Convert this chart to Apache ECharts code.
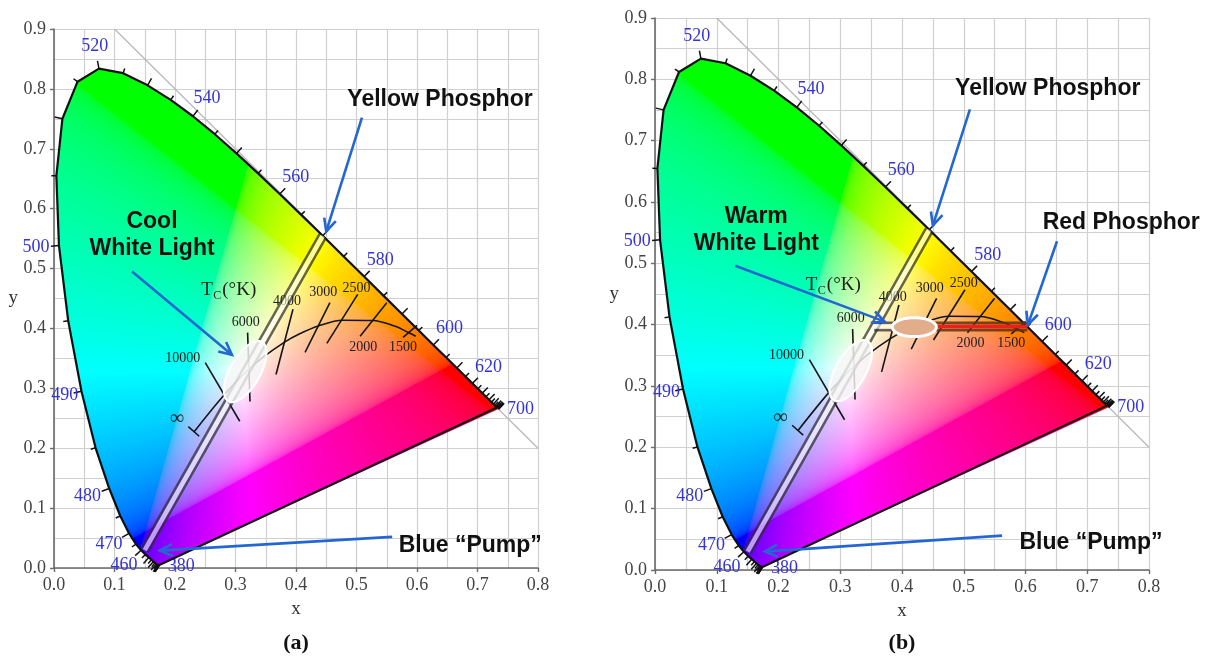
<!DOCTYPE html>
<html>
<head>
<meta charset="utf-8">
<title>CIE 1931 chromaticity – white LED</title>
<script src="https://cdn.jsdelivr.net/npm/echarts@6/dist/echarts.min.js"></script>
<style>
  html, body { margin: 0; padding: 0; background: #ffffff; }
  #chart { width: 1216px; height: 662px; }
</style>
</head>
<body>
<div id="chart"></div>
<script>
// ---- CIE 1931 2° spectral locus, 5 nm steps ----
const wavelengths = [380,385,390,395,400,405,410,415,420,425,430,435,440,445,450,455,460,465,470,475,
  480,485,490,495,500,505,510,515,520,525,530,535,540,545,550,555,560,565,570,575,580,585,590,595,
  600,605,610,615,620,625,630,635,640,645,650,655,660,665,670,675,680,685,690,695,700];
const locusX = [0.1741,0.1740,0.1738,0.1736,0.1733,0.1730,0.1726,0.1721,0.1714,0.1703,0.1689,0.1669,
  0.1644,0.1611,0.1566,0.1510,0.1440,0.1355,0.1241,0.1096,0.0913,0.0687,0.0454,0.0235,0.0082,0.0039,
  0.0139,0.0389,0.0743,0.1142,0.1547,0.1929,0.2296,0.2658,0.3016,0.3373,0.3731,0.4087,0.4441,0.4788,
  0.5125,0.5448,0.5752,0.6029,0.6270,0.6482,0.6658,0.6801,0.6915,0.7006,0.7079,0.7140,0.7190,0.7230,
  0.7260,0.7283,0.7300,0.7311,0.7320,0.7327,0.7334,0.7340,0.7344,0.7346,0.7347];
const locusY = [0.0050,0.0050,0.0049,0.0049,0.0048,0.0048,0.0048,0.0048,0.0051,0.0058,0.0069,0.0086,
  0.0109,0.0138,0.0177,0.0227,0.0297,0.0399,0.0578,0.0868,0.1327,0.2007,0.2950,0.4127,0.5384,0.6548,
  0.7502,0.8120,0.8338,0.8262,0.8059,0.7816,0.7543,0.7243,0.6923,0.6589,0.6245,0.5896,0.5547,0.5202,
  0.4866,0.4544,0.4242,0.3965,0.3725,0.3514,0.3340,0.3197,0.3083,0.2993,0.2920,0.2859,0.2809,0.2770,
  0.2740,0.2717,0.2700,0.2689,0.2680,0.2673,0.2666,0.2660,0.2656,0.2654,0.2653];
const labelledWavelengths = [380,460,470,480,490,500,520,540,560,580,600,620,700];
const whitePoint = [0.3127, 0.3290];

// ---- Planckian locus (∞ … 1400 K) ----
const planckX = [0.232, 0.2807, 0.3135, 0.3221, 0.3451, 0.3805, 0.4053, 0.4369, 0.4770, 0.5266, 0.5640, 0.5857, 0.5980];
const planckY = [0.228, 0.2884, 0.3236, 0.3318, 0.3516, 0.3768, 0.3907, 0.4041, 0.4137, 0.4133, 0.4035, 0.3931, 0.3870];

// isotherm segments [x1, y1, x2, y2]; the last one is the end bar at ∞
const isotherms = [
  [0.250, 0.343, 0.307, 0.245],
  [0.320, 0.393, 0.324, 0.278],
  [0.395, 0.432, 0.367, 0.323],
  [0.456, 0.443, 0.415, 0.360],
  [0.502, 0.457, 0.451, 0.375],
  [0.550, 0.443, 0.506, 0.387],
  [0.600, 0.405, 0.577, 0.385],
  [0.222, 0.236, 0.240, 0.220]
];
const tempLabels = ['10000', '6000', '4000', '3000', '2500', '2000', '1500', '∞'];
const tempLabelX = [0.213, 0.317, 0.385, 0.445, 0.500, 0.511, 0.577, 0.203];
const tempLabelY = [0.350, 0.410, 0.445, 0.460, 0.467, 0.369, 0.369, 0.249];
const tcLabel = [0.288, 0.465];

// blue pump → yellow phosphor mixing line, and the white-light regions
const pumpBand = [[0.150, 0.030, 0.4441, 0.5547, 0]];
const coolWhite = [[0.316, 0.328, 0]];
const warmBand = [[0.355, 0.397, 0.420, 0.397, 0], [0.420, 0.397, 0.603, 0.397, 1]];
const warmWhite = [[0.317, 0.325, 0], [0.420, 0.396, 1]];

// call-outs
const calloutsA = ['Cool\nWhite Light', 'Yellow Phosphor', 'Blue “Pump”'];
const calloutAX = [0.162, 0.638, 0.688];
const calloutAY = [0.555, 0.782, 0.037];
const arrowsA = [[0.129, 0.495, 0.294, 0.356], [0.509, 0.752, 0.450, 0.562], [0.559, 0.052, 0.175, 0.029]];
const calloutsB = ['Warm\nWhite Light', 'Yellow Phosphor', 'Red Phosphor', 'Blue “Pump”'];
const calloutBX = [0.164, 0.636, 0.755, 0.706];
const calloutBY = [0.554, 0.785, 0.567, 0.045];
const arrowsB = [[0.130, 0.496, 0.372, 0.405], [0.510, 0.751, 0.450, 0.562],
                 [0.651, 0.536, 0.604, 0.400], [0.562, 0.056, 0.178, 0.030]];

const axisTicksX = [0, 0.1, 0.2, 0.3, 0.4, 0.5, 0.6, 0.7, 0.8];
const axisTicksY = [0, 0.1, 0.2, 0.3, 0.4, 0.5, 0.6, 0.7, 0.8, 0.9];

// ---------------------------------------------------------------
const SERIF = '"Liberation Serif", "DejaVu Serif", serif';
const SANS = '"Liberation Sans", Arial, sans-serif';
const ARROW_BLUE = '#2466d2';
const locusPts = locusX.map((x, i) => [x, locusY[i]]);

// colour of a chromaticity point, brightest sRGB rendition (slightly softened)
function chromaColor(x, y) {
  const yy = Math.max(y, 0.002);
  const X = x / yy, Y = 1, Z = (1 - x - yy) / yy;
  let r = 3.2406 * X - 1.5372 * Y - 0.4986 * Z;
  let g = -0.9689 * X + 1.8758 * Y + 0.0415 * Z;
  let b = 0.0557 * X - 0.2040 * Y + 1.0570 * Z;
  r = Math.max(r, 0); g = Math.max(g, 0); b = Math.max(b, 0);
  const m = Math.max(r, g, b) || 1;
  const enc = c => Math.pow(c / m, 1 / 3);
  return [enc(r), enc(g), enc(b)];
}

// colour field of the gamut, clipped to the spectral locus
function fieldItem(params, api) {
  const x0 = axisTicksX[0], x1 = axisTicksX[axisTicksX.length - 1];
  const y0 = axisTicksY[0], y1 = axisTicksY[axisTicksY.length - 1];
  const pA = api.coord([x0, y0]), pB = api.coord([x1, y1]);
  const left = Math.floor(pA[0]), top = Math.floor(pB[1]);
  const w = Math.ceil(pB[0]) - left, h = Math.ceil(pA[1]) - top;
  const cv = document.createElement('canvas');
  cv.width = w; cv.height = h;
  const ctx = cv.getContext('2d');
  const img = ctx.createImageData(w, h);
  for (let j = 0; j < h; j++) {
    const py = top + j + 0.5;
    const dy = y0 + (pA[1] - py) / (pA[1] - pB[1]) * (y1 - y0);
    for (let i = 0; i < w; i++) {
      const px = left + i + 0.5;
      const dx = x0 + (px - pA[0]) / (pB[0] - pA[0]) * (x1 - x0);
      const c = chromaColor(dx, dy);
      const k = (j * w + i) * 4;
      img.data[k] = Math.round(c[0] * 255);
      img.data[k + 1] = Math.round(c[1] * 255);
      img.data[k + 2] = Math.round(c[2] * 255);
      img.data[k + 3] = 255;
    }
  }
  ctx.putImageData(img, 0, 0);
  ctx.globalCompositeOperation = 'destination-in';
  ctx.beginPath();
  locusPts.forEach((p, n) => {
    const q = api.coord(p);
    if (n === 0) ctx.moveTo(q[0] - left, q[1] - top); else ctx.lineTo(q[0] - left, q[1] - top);
  });
  ctx.closePath();
  ctx.fillStyle = '#000';
  ctx.fill();
  return { type: 'image', silent: true, style: { image: cv, x: left, y: top, width: w, height: h } };
}

// outward unit normal of the locus at point i, in pixels
function locusNormal(i, api) {
  const n = locusPts.length;
  const P = api.coord(locusPts[i]);
  let a = i, b = i, pa = P, pb = P;
  while (Math.hypot(pb[0] - pa[0], pb[1] - pa[1]) < 6 && (a > 0 || b < n - 1)) {
    if (a > 0) a--; if (b < n - 1) b++;
    pa = api.coord(locusPts[a]); pb = api.coord(locusPts[b]);
  }
  const tx = pb[0] - pa[0], ty = pb[1] - pa[1], len = Math.hypot(tx, ty) || 1;
  let nx = -ty / len, ny = tx / len;
  const W = api.coord(whitePoint);
  if ((P[0] - W[0]) * nx + (P[1] - W[1]) * ny < 0) { nx = -nx; ny = -ny; }
  return [nx, ny];
}

function tickItem(params, api) {
  const i = params.dataIndex;
  const P = api.coord(locusPts[i]);
  const nrm = locusNormal(i, api);
  const len = wavelengths[i] % 10 === 0 ? 8 : 5;
  return { type: 'line', silent: true,
    shape: { x1: P[0], y1: P[1], x2: P[0] + nrm[0] * len, y2: P[1] + nrm[1] * len },
    style: { stroke: '#111', lineWidth: 1.5 } };
}

const LABEL_DIR = { 380: [1, 0.08], 700: [1, 0] };
const LABEL_DIST = { 380: 22, 700: 22, 490: 17 };
function wavelengthLabelItem(params, api) {
  const wl = labelledWavelengths[params.dataIndex];
  const i = wavelengths.indexOf(wl);
  const P = api.coord(locusPts[i]);
  const d = LABEL_DIR[wl] || locusNormal(i, api);
  const dist = LABEL_DIST[wl] || 23;
  return { type: 'text', silent: true, x: P[0] + d[0] * dist, y: P[1] + d[1] * dist,
    style: { text: String(wl), fill: '#3434d6', font: '18px ' + SERIF, align: 'center', verticalAlign: 'middle' } };
}

function segmentItem(params, api) {
  const A = api.coord([api.value(0), api.value(1)]), B = api.coord([api.value(2), api.value(3)]);
  return { type: 'line', silent: true, shape: { x1: A[0], y1: A[1], x2: B[0], y2: B[1] },
           style: { stroke: '#151515', lineWidth: 1.6 } };
}

function tempLabelItem(params, api) {
  const P = api.coord([api.value(0), api.value(1)]);
  return { type: 'text', silent: true, x: P[0], y: P[1],
    style: { text: tempLabels[params.dataIndex], fill: '#1d1d1d',
             font: (params.dataIndex === 7 ? '20px ' : '14px ') + SERIF, align: 'center', verticalAlign: 'middle' } };
}

function tcItem(params, api) {
  const P = api.coord([api.value(0), api.value(1)]);
  const f = SERIF;
  return { type: 'group', silent: true, children: [
    { type: 'text', x: P[0] - 27, y: P[1], style: { text: 'T', fill: '#1d1d1d', font: '19px ' + f, verticalAlign: 'middle' } },
    { type: 'text', x: P[0] - 15, y: P[1] + 6, style: { text: 'C', fill: '#1d1d1d', font: '12px ' + f, verticalAlign: 'middle' } },
    { type: 'text', x: P[0] - 6, y: P[1], style: { text: '(°K)', fill: '#1d1d1d', font: '19px ' + f, verticalAlign: 'middle' } }
  ] };
}

// twin-edged band; kind 0 = pale core, kind 1 = red core
function bandItem(params, api) {
  const A = api.coord([api.value(0), api.value(1)]), B = api.coord([api.value(2), api.value(3)]);
  const kind = api.value(4);
  const dx = B[0] - A[0], dy = B[1] - A[1], len = Math.hypot(dx, dy) || 1;
  const nx = -dy / len * 3.6, ny = dx / len * 3.6;
  const edge = kind === 1 ? 'rgba(95,50,15,0.85)' : 'rgba(45,45,45,0.72)';
  const core = kind === 1 ? '#e4231c' : 'rgba(255,255,255,0.6)';
  return { type: 'group', silent: true, children: [
    { type: 'line', shape: { x1: A[0] + nx, y1: A[1] + ny, x2: B[0] + nx, y2: B[1] + ny }, style: { stroke: edge, lineWidth: 2.6 } },
    { type: 'line', shape: { x1: A[0] - nx, y1: A[1] - ny, x2: B[0] - nx, y2: B[1] - ny }, style: { stroke: edge, lineWidth: 2.6 } },
    { type: 'line', shape: { x1: A[0], y1: A[1], x2: B[0], y2: B[1] }, style: { stroke: core, lineWidth: kind === 1 ? 4 : 4.6 } }
  ] };
}

const ELLIPSE_STYLE = [
  { a: 34, b: 15, fill: 'rgba(246,246,246,0.82)', stroke: '#ffffff', width: 2.2 },
  { a: 22, b: 9.5, fill: '#e2ad8b', stroke: '#ffffff', width: 3 }
];
function ellipseItem(params, api) {
  const C = api.coord([api.value(0), api.value(1)]);
  const st = ELLIPSE_STYLE[api.value(2)];
  let ang = 0;
  if (api.value(2) === 0) {
    const A = api.coord([pumpBand[0][0], pumpBand[0][1]]), B = api.coord([pumpBand[0][2], pumpBand[0][3]]);
    ang = Math.atan2(B[1] - A[1], B[0] - A[0]);
  }
  const pts = [];
  for (let k = 0; k < 72; k++) {
    const t = k / 72 * Math.PI * 2;
    const ex = st.a * Math.cos(t), ey = st.b * Math.sin(t);
    pts.push([C[0] + ex * Math.cos(ang) - ey * Math.sin(ang), C[1] + ex * Math.sin(ang) + ey * Math.cos(ang)]);
  }
  return { type: 'polygon', silent: true, shape: { points: pts },
           style: { fill: st.fill, stroke: st.stroke, lineWidth: st.width } };
}

function arrowItem(params, api) {
  const A = api.coord([api.value(0), api.value(1)]), B = api.coord([api.value(2), api.value(3)]);
  const ang = Math.atan2(B[1] - A[1], B[0] - A[0]);
  const h = 14, spread = 0.45;
  const L = [B[0] - h * Math.cos(ang - spread), B[1] - h * Math.sin(ang - spread)];
  const R = [B[0] - h * Math.cos(ang + spread), B[1] - h * Math.sin(ang + spread)];
  return { type: 'group', silent: true, children: [
    { type: 'line', shape: { x1: A[0], y1: A[1], x2: B[0], y2: B[1] }, style: { stroke: ARROW_BLUE, lineWidth: 2.6 } },
    { type: 'polyline', shape: { points: [L, B, R] }, style: { stroke: ARROW_BLUE, lineWidth: 2.6, fill: null } }
  ] };
}

function calloutRenderer(texts) {
  return function (params, api) {
    const P = api.coord([api.value(0), api.value(1)]);
    return { type: 'text', silent: true, x: P[0], y: P[1],
      style: { text: texts[params.dataIndex], fill: '#111', font: 'bold 23px ' + SANS,
               align: 'center', verticalAlign: 'middle', lineHeight: 27 } };
  };
}

function axisCommon() {
  return {
    type: 'value', interval: 0.1,
    nameLocation: 'middle',
    nameTextStyle: { fontFamily: SERIF, fontSize: 19, color: '#333' },
    axisLine: { show: true, onZero: false, lineStyle: { color: '#6a6a6a', width: 1.6 } },
    axisTick: { show: true, length: 4, lineStyle: { color: '#6a6a6a', width: 1.4 } },
    axisLabel: { fontFamily: SERIF, fontSize: 18, color: '#444', margin: 8, formatter: v => v.toFixed(1) },
    splitLine: { show: true, lineStyle: { color: '#d0d0d0', width: 1.2 } },
    minorTick: { show: false, splitNumber: 2 },
    minorSplitLine: { show: true, lineStyle: { color: '#d0d0d0', width: 1.2 } }
  };
}

function panelSeries(k, extra) {
  const ax = { xAxisIndex: k, yAxisIndex: k };
  const list = [
    Object.assign({ type: 'line', z: 1, silent: true, symbol: 'none', animation: false,
      data: [[0.1, 0.9], [0.8, 0.2]], lineStyle: { color: '#b9b9b9', width: 1.3 } }, ax),
    Object.assign({ type: 'custom', z: 2, clip: false, renderItem: fieldItem, encode: { x: 0, y: 1 },
      data: [whitePoint.slice()] }, ax),
    Object.assign({ type: 'line', z: 5, silent: true, symbol: 'none', animation: false,
      data: locusPts.concat([locusPts[0]]), lineStyle: { color: '#111', width: 2.2 } }, ax),
    Object.assign({ type: 'custom', z: 5, clip: false, renderItem: tickItem, encode: { x: 0, y: 1 },
      data: locusPts.map(p => p.slice()) }, ax),
    Object.assign({ type: 'custom', z: 5, clip: false, renderItem: wavelengthLabelItem, encode: { x: 0, y: 1 },
      data: labelledWavelengths.map(w => locusPts[wavelengths.indexOf(w)].slice()) }, ax),
    Object.assign({ type: 'line', z: 6, silent: true, symbol: 'none', smooth: 0.35, animation: false,
      data: planckX.map((x, i) => [x, planckY[i]]), lineStyle: { color: '#151515', width: 1.6 } }, ax),
    Object.assign({ type: 'custom', z: 6, clip: false, renderItem: segmentItem, encode: { x: [0, 2], y: [1, 3] },
      data: isotherms }, ax),
    Object.assign({ type: 'custom', z: 6, clip: false, renderItem: tempLabelItem, encode: { x: 0, y: 1 },
      data: tempLabelX.map((x, i) => [x, tempLabelY[i]]) }, ax),
    Object.assign({ type: 'custom', z: 6, clip: false, renderItem: tcItem, encode: { x: 0, y: 1 }, data: [tcLabel] }, ax),
    Object.assign({ type: 'custom', z: 7, clip: false, renderItem: bandItem, encode: { x: [0, 2], y: [1, 3] }, data: pumpBand }, ax)
  ];
  return list.concat(extra.map(s => Object.assign(s, ax)));
}

const seriesA = panelSeries(0, [
  { type: 'custom', z: 8, clip: false, renderItem: ellipseItem, encode: { x: 0, y: 1 }, data: coolWhite },
  { type: 'custom', z: 9, clip: false, renderItem: arrowItem, encode: { x: [0, 2], y: [1, 3] }, data: arrowsA },
  { type: 'custom', z: 9, clip: false, renderItem: calloutRenderer(calloutsA), encode: { x: 0, y: 1 },
    data: calloutAX.map((x, i) => [x, calloutAY[i]]) }
]);
const seriesB = panelSeries(1, [
  { type: 'custom', z: 7, clip: false, renderItem: bandItem, encode: { x: [0, 2], y: [1, 3] }, data: warmBand },
  { type: 'custom', z: 8, clip: false, renderItem: ellipseItem, encode: { x: 0, y: 1 }, data: warmWhite },
  { type: 'custom', z: 9, clip: false, renderItem: arrowItem, encode: { x: [0, 2], y: [1, 3] }, data: arrowsB },
  { type: 'custom', z: 9, clip: false, renderItem: calloutRenderer(calloutsB), encode: { x: 0, y: 1 },
    data: calloutBX.map((x, i) => [x, calloutBY[i]]) }
]);

const chart = echarts.init(document.getElementById('chart'), null, { renderer: 'canvas' });
chart.setOption({
  animation: false,
  backgroundColor: '#ffffff',
  grid: [
    { left: 54, top: 29, width: 484, height: 539 },
    { left: 655, top: 18, width: 494, height: 552 }
  ],
  xAxis: [0, 1].map(k => Object.assign(axisCommon(), {
    gridIndex: k, min: axisTicksX[0], max: axisTicksX[axisTicksX.length - 1], name: 'x', nameGap: 32 })),
  yAxis: [0, 1].map(k => Object.assign(axisCommon(), {
    gridIndex: k, min: axisTicksY[0], max: axisTicksY[axisTicksY.length - 1], name: 'y', nameGap: 36, nameRotate: 0 })),
  graphic: [
    { type: 'text', x: 296, y: 643, style: { text: '(a)', font: 'bold 22px ' + SERIF, fill: '#111', align: 'center', verticalAlign: 'middle' } },
    { type: 'text', x: 902, y: 643, style: { text: '(b)', font: 'bold 22px ' + SERIF, fill: '#111', align: 'center', verticalAlign: 'middle' } }
  ],
  series: seriesA.concat(seriesB)
});
</script>
</body>
</html>
